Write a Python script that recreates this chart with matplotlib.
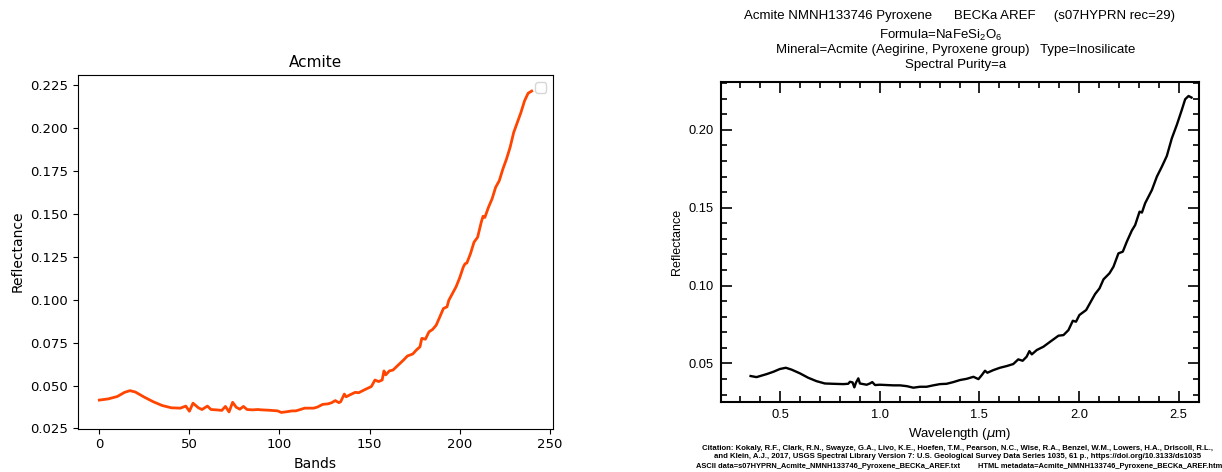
import numpy as np
import matplotlib
matplotlib.use("Agg")
import matplotlib.pyplot as plt
from matplotlib.ticker import MultipleLocator

# left panel: resampled spectrum (band index vs reflectance)
bands = [0, 5, 10, 14, 17, 20, 25, 30, 35, 40, 45, 48, 50, 52, 55, 57, 60, 62, 65, 68,
         70, 72, 74, 76, 78, 80, 82, 85, 88, 90, 94, 99, 101, 104, 107, 109, 111, 114, 119, 121,
         124, 127, 129, 131, 133, 134, 136, 137, 139, 142, 144, 147, 149, 151, 153, 155, 157, 158, 159, 161,
         163, 165, 167, 169, 171, 174, 176, 178, 179, 181, 183, 185, 187, 189, 191, 193, 194, 196, 198, 200,
         202, 203, 204, 206, 208, 210, 212, 213, 214, 216, 218, 220, 222, 224, 226, 228, 230, 232, 234, 236,
         238, 240]
refl = [0.0415, 0.0422, 0.0436, 0.0460, 0.0470, 0.0462, 0.0432, 0.0405, 0.0383, 0.0370, 0.0368, 0.0380, 0.0350, 0.0397, 0.0370, 0.0360, 0.0380, 0.0360, 0.0358, 0.0355,
        0.0378, 0.0346, 0.0402, 0.0373, 0.0362, 0.0378, 0.0360, 0.0358, 0.0360, 0.0358, 0.0356, 0.0352, 0.0343, 0.0347, 0.0352, 0.0352, 0.0358, 0.0368, 0.0368, 0.0374,
        0.0390, 0.0393, 0.0400, 0.0412, 0.0400, 0.0406, 0.0450, 0.0434, 0.0445, 0.0460, 0.0458, 0.0474, 0.0484, 0.0494, 0.0532, 0.0523, 0.0532, 0.0585, 0.0562, 0.0585,
        0.0590, 0.0610, 0.0630, 0.0650, 0.0672, 0.0684, 0.0707, 0.0726, 0.0775, 0.0770, 0.0813, 0.0827, 0.0852, 0.0900, 0.0949, 0.0959, 0.0997, 0.1036, 0.1075, 0.1127,
        0.1190, 0.1210, 0.1214, 0.1268, 0.1336, 0.1365, 0.1452, 0.1487, 0.1480, 0.1539, 0.1588, 0.1656, 0.1694, 0.1762, 0.1820, 0.1888, 0.1975, 0.2033, 0.2091, 0.2159,
        0.2204, 0.2217]

# right panel: USGS library plot (wavelength in um vs reflectance)
wl = [0.351, 0.381, 0.431, 0.465, 0.498, 0.528, 0.557, 0.599, 0.640, 0.682, 0.724, 0.766, 0.816, 0.841, 0.850, 0.863, 0.872, 0.880, 0.892, 0.900,
      0.917, 0.934, 0.950, 0.962, 0.976, 1.000, 1.034, 1.068, 1.101, 1.135, 1.168, 1.202, 1.235, 1.268, 1.302, 1.335, 1.369, 1.402, 1.436, 1.470,
      1.495, 1.512, 1.528, 1.540, 1.570, 1.603, 1.637, 1.670, 1.695, 1.717, 1.737, 1.751, 1.763, 1.788, 1.821, 1.855, 1.897, 1.922, 1.947, 1.969,
      1.985, 2.002, 2.036, 2.059, 2.081, 2.103, 2.123, 2.153, 2.173, 2.198, 2.220, 2.240, 2.265, 2.282, 2.304, 2.316, 2.332, 2.366, 2.391, 2.416,
      2.441, 2.466, 2.491, 2.516, 2.533, 2.550, 2.565]
wl_refl = [0.0419, 0.0412, 0.0431, 0.0446, 0.0464, 0.0472, 0.0460, 0.0436, 0.0408, 0.0386, 0.0371, 0.0369, 0.0367, 0.0369, 0.0382, 0.0378, 0.0346, 0.0376, 0.0404, 0.0371,
           0.0367, 0.0363, 0.0371, 0.0380, 0.0361, 0.0363, 0.0361, 0.0359, 0.0359, 0.0354, 0.0344, 0.0350, 0.0350, 0.0359, 0.0367, 0.0369, 0.0380, 0.0393, 0.0401, 0.0414,
           0.0399, 0.0425, 0.0453, 0.0440, 0.0457, 0.0472, 0.0483, 0.0496, 0.0526, 0.0517, 0.0543, 0.0579, 0.0558, 0.0586, 0.0607, 0.0639, 0.0678, 0.0682, 0.0714, 0.0774,
           0.0768, 0.0811, 0.0843, 0.0896, 0.0946, 0.0982, 0.1040, 0.1079, 0.1121, 0.1207, 0.1218, 0.1282, 0.1353, 0.1389, 0.1475, 0.1469, 0.1529, 0.1614, 0.1700, 0.1764,
           0.1833, 0.1946, 0.2032, 0.2128, 0.2197, 0.2218, 0.2208]

W, H = 1222, 472
fig = plt.figure(figsize=(W / 100, H / 100), dpi=100)

# ---- left: matplotlib plot
ax1 = fig.add_axes([77.7 / W, (H - 428.5) / H, (553.3 - 77.7) / W, (428.5 - 75) / H])
ax1.plot(bands, refl, color='orangered', lw=2)
ax1.set_title('Acmite', fontsize=11)
ax1.set_xlabel('Bands', fontsize=10)
ax1.set_ylabel('Reflectance', fontsize=10)
ax1.tick_params(labelsize=9.5)
ax1.set_xticks([0, 50, 100, 150, 200, 250])
ax1.set_yticks([0.025, 0.05, 0.075, 0.1, 0.125, 0.15, 0.175, 0.2, 0.225])
ax1.legend(loc='upper right')

# ---- right: USGS spectral library figure
fam = ['Liberation Sans', 'DejaVu Sans']
ax2 = fig.add_axes([720.5 / W, (H - 401.7) / H, (1198.5 - 720.5) / W, (401.7 - 82.3) / H])
ax2.plot(wl, wl_refl, color='black', lw=1.7)
ax2.set_xlim(0.2, 2.6)
ax2.set_ylim(0.0254, 0.2306)
ax2.xaxis.set_major_locator(MultipleLocator(0.5))
ax2.xaxis.set_minor_locator(MultipleLocator(0.1))
ax2.yaxis.set_major_locator(MultipleLocator(0.05))
ax2.yaxis.set_minor_locator(MultipleLocator(0.01))
ax2.xaxis.set_major_formatter(lambda v, p: f'{v:.1f}')
ax2.yaxis.set_major_formatter(lambda v, p: f'{v:.2f}')
ax2.tick_params(which='both', direction='in', top=True, right=True, width=1.2, labelsize=9.3)
ax2.tick_params(which='major', length=8, pad=5)
ax2.tick_params(which='minor', length=4)
for lab in ax2.get_xticklabels() + ax2.get_yticklabels():
    lab.set_family(fam)
for s in ax2.spines.values():
    s.set_linewidth(1.5)
ax2.set_xlabel(r'Wavelength ($\mu$m)', fontsize=9.5, family=fam, labelpad=4)
ax2.set_ylabel('Reflectance', fontsize=9, family=fam, labelpad=4)

def ftext(x, y, s, **kw):
    fig.text(x / W, 1 - y / H, s, family=fam, va='center', **kw)

ftext(960, 16, 'Acmite NMNH133746 Pyroxene      BECKa AREF     (s07HYPRN rec=29)', ha='center', fontsize=9.5)
ftext(941, 35, r'Formula=NaFeSi$_\mathregular{2}$O$_\mathregular{6}$', ha='center', fontsize=9.5)
ftext(956, 50, 'Mineral=Acmite (Aegirine, Pyroxene group)   Type=Inosilicate', ha='center', fontsize=9.5)
ftext(956, 65, 'Spectral Purity=a', ha='center', fontsize=9.5)

ftext(958, 449, 'Citation: Kokaly, R.F., Clark, R.N., Swayze, G.A., Livo, K.E., Hoefen, T.M., Pearson, N.C., Wise, R.A., '
      'Benzel, W.M., Lowers, H.A., Driscoll, R.L.,', ha='center', fontsize=5.6, weight='bold')
ftext(958, 456, 'and Klein, A.J., 2017, USGS Spectral Library Version 7: U.S. Geological Survey Data Series 1035, '
      '61 p., https://doi.org/10.3133/ds1035', ha='center', fontsize=5.6, weight='bold')
ftext(696, 466, 'ASCII data=s07HYPRN_Acmite_NMNH133746_Pyroxene_BECKa_AREF.txt', ha='left', fontsize=5.4, weight='bold')
ftext(978, 466, 'HTML metadata=Acmite_NMNH133746_Pyroxene_BECKa_AREF.html', ha='left', fontsize=5.4, weight='bold')

fig.savefig('out.png', dpi=100)
